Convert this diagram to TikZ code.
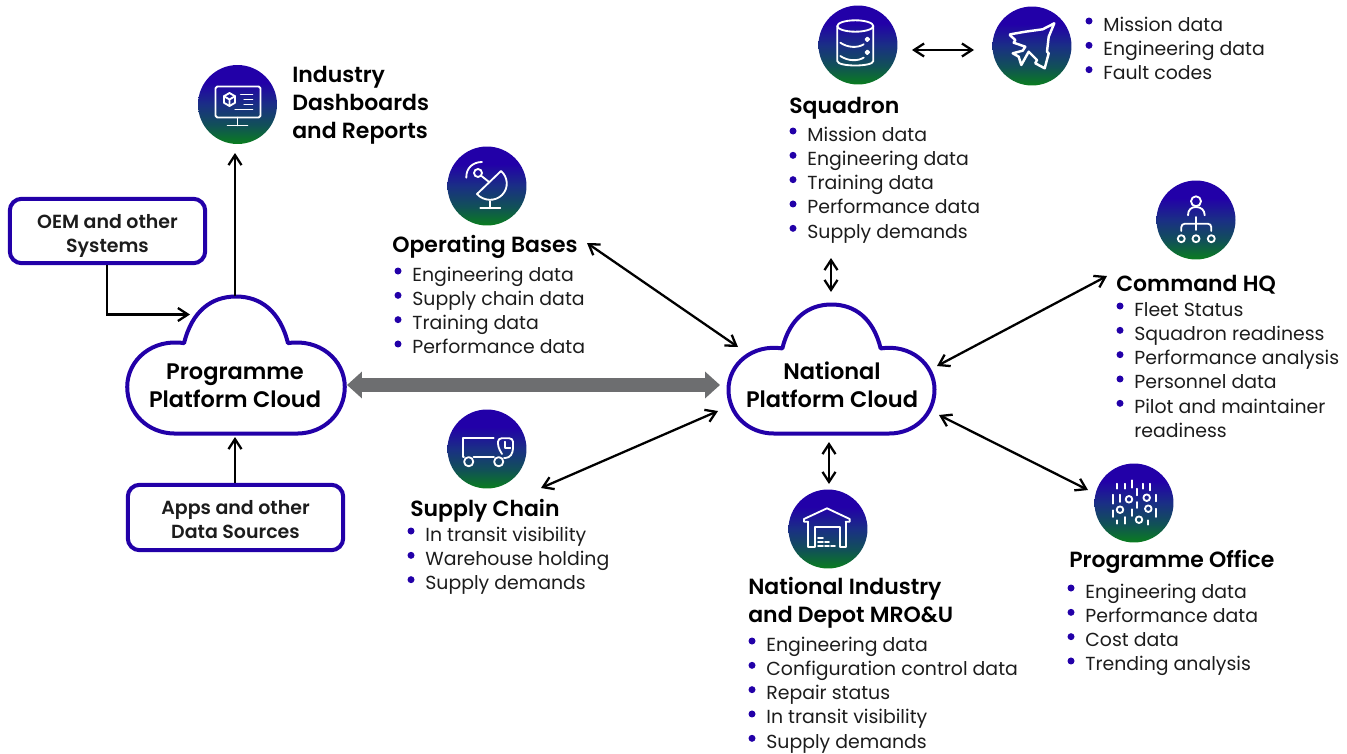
\documentclass[tikz,border=0pt]{standalone}
\usepackage{fontspec}
\setmainfont{Poppins}[BoldFont=Poppins SemiBold]
\usetikzlibrary{arrows.meta}
\definecolor{cloudblue}{HTML}{2200A8}
\definecolor{icontop}{HTML}{2200A8}
\definecolor{iconmid}{HTML}{1A2F85}
\definecolor{iconlow}{HTML}{115058}
\definecolor{iconbottom}{HTML}{0A7D1E}
\definecolor{linkgrey}{HTML}{6D6E70}
\definecolor{inktext}{HTML}{1C1C1C}
\pgfdeclareverticalshading{iconfade}{100bp}{color(0bp)=(iconbottom); color(25bp)=(iconbottom); color(37bp)=(iconlow); color(50bp)=(iconmid); color(64bp)=(icontop); color(100bp)=(icontop)}
\tikzstyle{cloudline}=[draw=cloudblue,line width=0.08cm,fill=white,line join=round]
\tikzstyle{sourcebox}=[draw=cloudblue,line width=0.08cm,rounded corners=0.24cm,inner sep=0pt]
\tikzstyle{boxtext}=[align=center,inner sep=0pt,font=\boxfont,text=inktext]
\tikzstyle{iconball}=[circle,minimum size=1.58cm,inner sep=0pt,shade,shading=iconfade]
\tikzstyle{iconline}=[draw=white,line width=1.05pt,line join=round,line cap=round]
\tikzstyle{cloudtext}=[align=center,inner sep=0pt,font=\cloudfont,text=black]
\tikzstyle{titletext}=[anchor=base west,inner sep=0pt,font=\titlefont,text=black]
\tikzstyle{blocktext}=[anchor=north west,align=left,inner sep=0pt,font=\titlefont,text=black]
\tikzstyle{itemtext}=[anchor=base west,inner sep=0pt,font=\itemfont,text=inktext]
\tikzstyle{itembullet}=[circle,fill=cloudblue,minimum size=0.14cm,inner sep=0pt]
\tikzstyle{link}=[{Straight Barb[length=0.2cm,width=0.26cm]}-{Straight Barb[length=0.2cm,width=0.26cm]},line width=1.3pt,black]
\tikzstyle{feed}=[-{Straight Barb[length=0.2cm,width=0.26cm]},line width=1.3pt,black]
\tikzstyle{greylink}=[{Triangle[length=0.3cm,width=0.52cm]}-{Triangle[length=0.3cm,width=0.52cm]},line width=0.28cm,linkgrey]
\newcommand{\boxfont}{\fontsize{10.8}{13.8}\bfseries\selectfont}
\newcommand{\cloudfont}{\fontsize{12.8}{15.9}\bfseries\selectfont}
\newcommand{\titlefont}{\fontsize{12.5}{16.1}\bfseries\selectfont}
\newcommand{\itemfont}{\fontsize{10.75}{13}\selectfont}
\newcommand{\drawcloud}[4]{% top centre x, top y, x scale, y scale
\draw[cloudline,shift={(#1,#2)},xscale=#3,yscale=#4] (-53,48) .. controls (-45,15) and (-25,0) .. (0,0) .. controls (25,0) and (45,15) .. (53,48)
  .. controls (85,43) and (111,65) .. (111,93) .. controls (111,120) and (90,141) .. (62,141) -- (-62,141)
  .. controls (-90,141) and (-111,120) .. (-111,93) .. controls (-111,65) and (-85,43) .. (-53,48) -- cycle;
}
\newcommand{\itemlist}[4]{% name, bullet x, first baseline, items
\foreach \txt [count=\i from 0] in {#4} {
  \pgfmathsetmacro{\ypos}{#3+24.33*\i}
  \node[itembullet] (#1b\i) at (#2,\ypos-10) {};
  \node[itemtext] (#1t\i) at (#2+14,\ypos) {\txt};
}
}
\begin{document}
\begin{tikzpicture}[x=0.02cm,y=-0.02cm]
\useasboundingbox (0,0) rectangle (1347,754);
% clouds
\drawcloud{236}{296.5}{0.98}{0.972}
\drawcloud{831.5}{304.5}{0.928}{0.915}
\node[cloudtext] (progcloud) at (235,386) {Programme\\Platform Cloud};
\node[cloudtext] (natcloud) at (832,385) {National\\Platform Cloud};
% source boxes
\node[sourcebox,minimum width=3.91cm,minimum height=1.29cm] (oembox) at (107.5,231) {};
\node[boxtext] (oemtext) at (107.5,236) {OEM and other\\Systems};
\node[sourcebox,minimum width=4.31cm,minimum height=1.31cm] (appsbox) at (235.5,517.5) {};
\node[boxtext] (appstext) at (235.5,519.5) {Apps and other\\Data Sources};
% icons
\node[iconball] (dashicon) at (237.5,104.5) {};
\node[iconball] (opsicon) at (487,186) {};
\node[iconball] (truckicon) at (487,449) {};
\node[iconball] (dbicon) at (858,45) {};
\node[iconball] (jeticon) at (1032,46) {};
\node[iconball] (hqicon) at (1196,220) {};
\node[iconball] (depoticon) at (828,529) {};
\node[iconball] (officeicon) at (1134,503) {};
\begin{scope}[shift={(dashicon)},iconline]
  \draw[rounded corners=1pt] (-22,-18) rectangle (23,13);
  \draw (0,13) -- (0,21) (-10,21) -- (10,21);
  \draw (-8,-11.5) -- (-2.5,-8.3) -- (-2.5,-1.7) -- (-8,1.5) -- (-13.5,-1.7) -- (-13.5,-8.3) -- cycle;
  \draw (-13.5,-8.3) -- (-8,-5) -- (-2.5,-8.3) (-8,-5) -- (-8,1.5);
  \draw (3.3,-10) -- (15,-10) (6.7,-5) -- (15,-5) (6.7,0) -- (15,0) (-2.3,5) -- (15,5);
\end{scope}
\begin{scope}[shift={(opsicon)},iconline]
  \draw (-6.7,22.3) -- (13.3,22.3) (3.3,15) -- (3.3,22.3);
  \draw (14,-15) -- (-10,8) .. controls (-4,15) and (8,16) .. (15,9) .. controls (22,2) and (21,-9) .. (14,-15);
  \draw (-9,-13) circle (4);
  \draw (-5.5,-10) -- (1.7,-4.3);
  \draw (-20.7,-8.3) .. controls (-21,-18) and (-14,-24) .. (-5,-24);
\end{scope}
\begin{scope}[shift={(truckicon)},iconline]
  \draw (6.7,-10.7) -- (-24.3,-10.7) -- (-24.3,7.7) -- (-23,7.7) (-13.5,7.7) -- (7,7.7);
  \draw (-18.3,12.7) circle (4.6) (11.7,12.7) circle (4.6);
  \draw[rounded corners=2pt] (15,5) -- (11,-2) -- (11,-10.7) -- (26,-10.7) -- (26,3) -- (22,9) -- (17,9);
  \draw (18.3,-7.3) -- (18.3,-0.7) -- (23.3,-0.7);
\end{scope}
\begin{scope}[shift={(dbicon)},iconline]
  \draw (-2.7,-19) ellipse (18 and 5.7);
  \draw (-20.7,-19) -- (-20.7,16) .. controls (-20.7,22) and (15.3,22) .. (15.3,16) -- (15.3,-19);
  \draw (-17.7,-2.3) .. controls (-10,3) and (0,3) .. (5.7,-0.7);
  \draw (-17.7,11) .. controls (-10,16.3) and (0,16.3) .. (5.7,12.6);
  \draw (9.3,-5.7) circle (1.8) (9.3,7.3) circle (1.8);
\end{scope}
\begin{scope}[shift={(jeticon)},iconline,line width=1.4pt]
  \draw (-21.7,-11.7) -- (-6.7,-14.3) -- (10.7,-16.7) -- (22.3,-22.7) -- (16.7,-9.3) -- (15,5.7) -- (16.7,7.3) -- (12.7,22.3) -- (3.3,17.3) -- (5,14) -- (-3.3,5.7) -- (-10.7,19) -- (-13.3,10.7) -- (-19.3,7.3) -- (-9.3,4.7) -- (-6.7,0.7) -- (-18.3,-3.3) -- (-16.7,-6) -- (-22.3,-11) -- cycle;
\end{scope}
\begin{scope}[shift={(hqicon)},iconline]
  \draw (0,-18.7) circle (5);
  \draw (-8,-4.7) .. controls (-8,-10) and (-5,-13) .. (0,-13) .. controls (5,-13) and (8.7,-10) .. (8.7,-4.7);
  \draw (0,-3) -- (0,10);
  \draw[rounded corners=2pt] (-14.7,11) -- (-14.7,3.7) -- (15.3,3.7) -- (15.3,11);
  \foreach \hx in {-14.7,0,15.3} { \draw (\hx,18.7) circle (3.5); }
\end{scope}
\begin{scope}[shift={(depoticon)},iconline]
  \draw (-20,-7.3) -- (-24,-7.3) -- (-24,-10) -- (-1,-20.7) -- (21.7,-10) -- (21.7,-7.3) -- (17.7,-7.3);
  \draw (-20,-7.3) -- (-20,17.7) -- (-13.3,17.7) -- (-13.3,-1.7) -- (11.7,-1.7) -- (11.7,17.7) -- (17.7,17.7) -- (17.7,-7.3);
  \draw (-10,9.3) -- (-5,9.3) (-10,13) -- (-5,13) (-3,13) -- (1,13) (-10,17) -- (-5,17) (-3,17) -- (1,17) (3,17) -- (7,17);
\end{scope}
\begin{scope}[shift={(officeicon)},iconline]
  \foreach \bx/\by/\bz in {-16.7/-19.3/-14.3,-9/-19.3/-14.3,-2.3/-22.7/-15.3,9.3/-19.3/-14.3,16/-19.3/-12.7,-21.3/-8.3/0.7,-14/-8.3/-1,3.3/-14.3/-7.7,22/-8.3/-1.7,-21.3/7.3/14,-2.3/6.3/13,3.3/-1/5,22/5.7/14,-16.7/17.3/20.7,-9/14/20.7,14.3/17.3/21.7} {
    \draw (\bx,\by) -- (\bx,\bz);
  }
  \foreach \rx/\ry in {-5/-3.7,12.7/-5.3,-14/6.7,14.3/5.7,5/16.7} { \draw (\rx,\ry) circle (3.3); }
\end{scope}
% titles
\node[blocktext] (dashtitle) at (292,65.5) {Industry\\Dashboards\\and Reports};
\node[titletext] (squadtitle) at (789,113.5) {Squadron};
\node[titletext] (opstitle) at (392,252) {Operating Bases};
\node[titletext] (supplytitle) at (410,516) {Supply Chain};
\node[titletext] (hqtitle) at (1116,291) {Command HQ};
\node[blocktext] (depottitle) at (748,577) {National Industry\\and Depot MRO\&U};
\node[titletext] (officetitle) at (1069,567) {Programme Office};
% lists
\itemlist{jet}{1089}{31}{Mission data,Engineering data,Fault codes}
\itemlist{squad}{793}{141}{Mission data,Engineering data,Training data,Performance data,Supply demands}
\itemlist{ops}{398}{281}{Engineering data,Supply chain data,Training data,Performance data}
\itemlist{supply}{411}{541}{In transit visibility,Warehouse holding,Supply demands}
\itemlist{hq}{1120}{316}{Fleet Status,Squadron readiness,Performance analysis,Personnel data,Pilot and maintainer}
\node[itemtext] (hqtail) at (1134,437.6) {readiness};
\itemlist{depot}{752}{651}{Engineering data,Configuration control data,Repair status,In transit visibility,Supply demands}
\itemlist{office}{1071}{598}{Engineering data,Performance data,Cost data,Trending analysis}
% arrow ends
\coordinate (progtop) at (235,296);
\coordinate (progleft) at (190,314.5);
\coordinate (progbottom) at (235,437);
\coordinate (oemcorner) at (107,314.5);
\coordinate (dashend) at (235,153);
\coordinate (greyleft) at (347,385);
\coordinate (greyright) at (720,385);
\coordinate (opsend) at (587,243);
\coordinate (natops) at (738,347);
\coordinate (supplyend) at (541,488);
\coordinate (natsupply) at (718,411);
\coordinate (squadend) at (831,258);
\coordinate (natsquad) at (831,292);
\coordinate (natdepot) at (829,442);
\coordinate (depotend) at (829,484);
\coordinate (hqend) at (1107,276);
\coordinate (nathq) at (937,366);
\coordinate (natoffice) at (939,415);
\coordinate (officeend) at (1088,490);
\coordinate (dbend) at (912,50);
\coordinate (jetend) at (974,50);
% connectors
\draw[feed] (oembox.south -| oemcorner) -- (oemcorner) -- (progleft);
\draw[feed] (progtop) -- (dashend);
\draw[feed] (appsbox.north -| progbottom) -- (progbottom);
\draw[greylink] (greyleft) -- (greyright);
\draw[link] (opsend) -- (natops);
\draw[link] (supplyend) -- (natsupply);
\draw[link] (squadend) -- (natsquad);
\draw[link] (natdepot) -- (depotend);
\draw[link] (hqend) -- (nathq);
\draw[link] (natoffice) -- (officeend);
\draw[link] (dbend) -- (jetend);
\end{tikzpicture}
\end{document}
